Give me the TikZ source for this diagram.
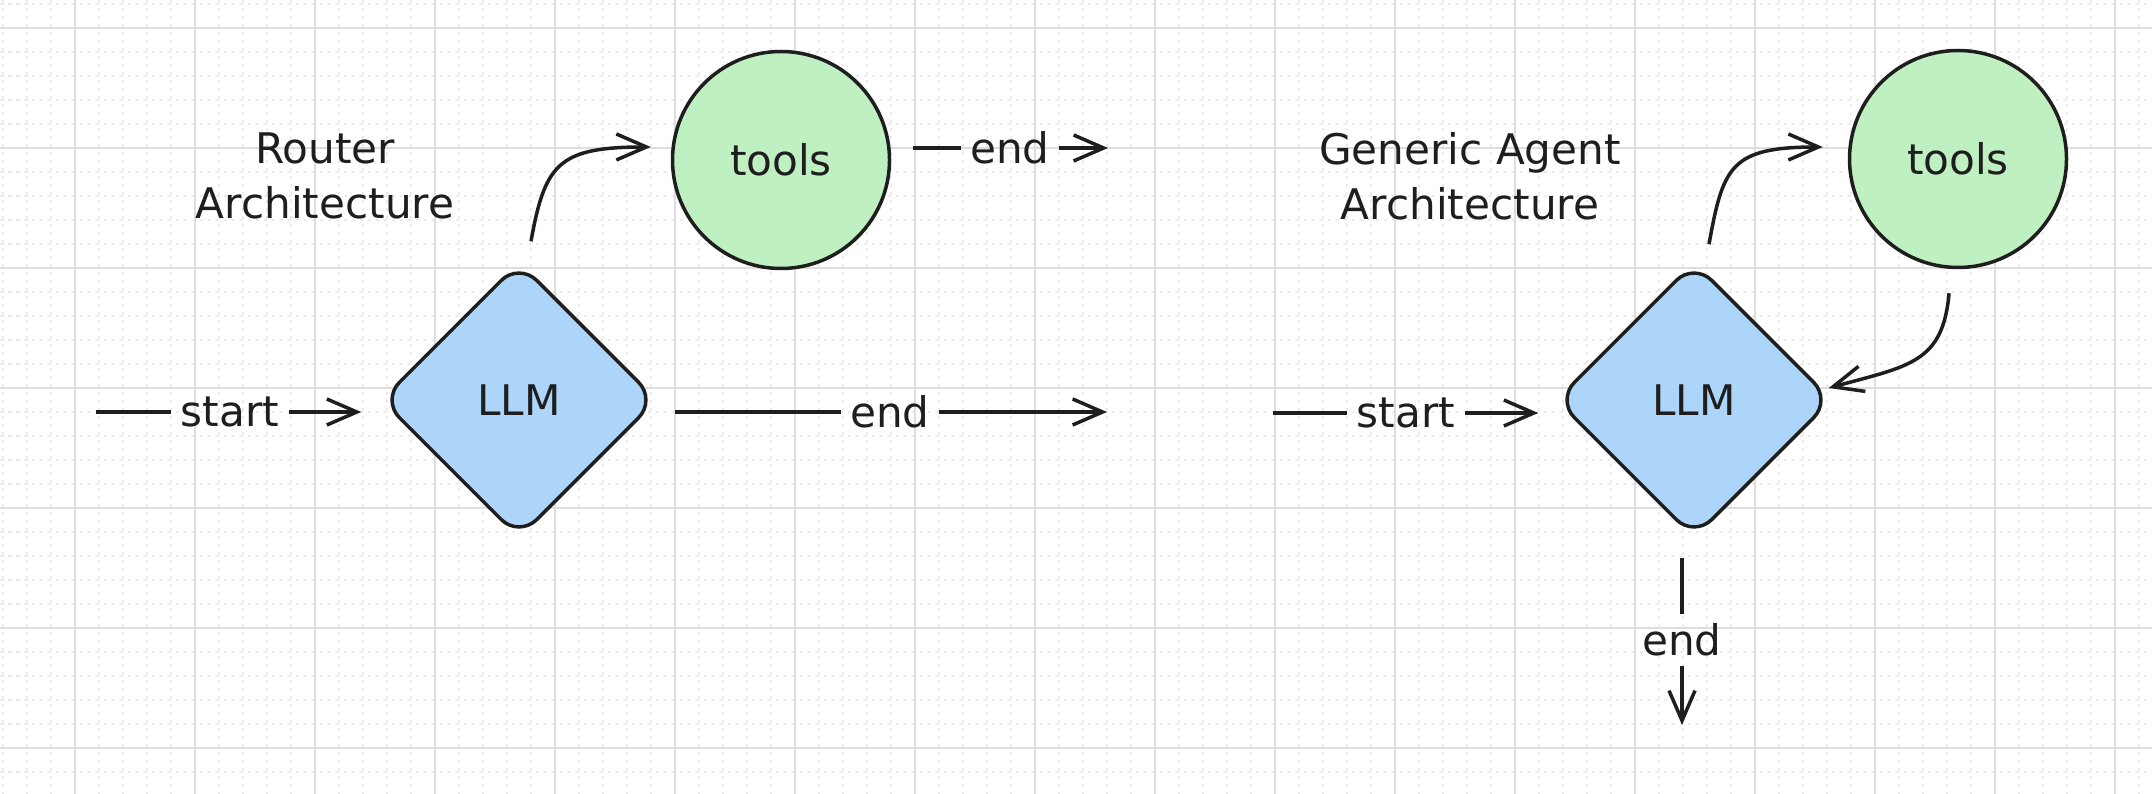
\documentclass[tikz,border=0pt]{standalone}
\usepackage{fontspec}
\setmainfont{DejaVu Sans}
\usetikzlibrary{shapes.geometric,arrows.meta}
\definecolor{ink}{HTML}{1E1E1E}
\definecolor{toolgreen}{HTML}{BFF0C1}
\definecolor{llmblue}{HTML}{ADD5FA}
\definecolor{majorgrid}{HTML}{DDDDDD}
\definecolor{minorgrid}{HTML}{EBEBEB}
\begin{document}
\begin{tikzpicture}[x=0.1mm,y=-0.1mm,
    line width=0.35mm,draw=ink,text=ink,font=\fontsize{12}{15.6}\selectfont,
    >={Straight Barb[length=3mm,width=2.6mm]},
    minor/.style={draw=minorgrid,line width=0.15mm,dash pattern=on 0.35mm off 0.45mm},
    major/.style={draw=majorgrid,line width=0.2mm},
    llm/.style={diamond,draw,fill=llmblue,minimum width=27.6mm,minimum height=27.6mm,inner sep=0pt,rounded corners=2.5mm},
    tool/.style={circle,draw,fill=toolgreen,minimum size=21.7mm,inner sep=0pt},
    lbl/.style={inner sep=0.8mm},
    ttl/.style={align=center}]
  \useasboundingbox[fill=white] (0,0) rectangle (2152,794);
  \foreach \k in {0,...,89} \draw[minor] ({3+24*\k},0) -- ({3+24*\k},794);
  \foreach \k in {0,...,32} \draw[minor] (0,{4+24*\k}) -- (2152,{4+24*\k});
  \foreach \k in {0,...,17} \draw[major] ({75+120*\k},0) -- ({75+120*\k},794);
  \foreach \k in {0,...,6} \draw[major] (0,{28+120*\k}) -- (2152,{28+120*\k});

  \node[ttl] (rtitle) at (325,176) {Router\\Architecture};
  \node[tool] (toolsA) at (781,160) {tools};
  \node[llm] (llmA) at (519,400) {LLM};
  \node[lbl] (startA) at (230,412) {start};
  \node[lbl] (endA) at (890,412) {end};
  \node[lbl] (endT) at (1010,148) {end};
  \coordinate (inA) at (96,412);
  \coordinate (outA) at (1107,412);
  \coordinate (outT) at (1108,148);
  \draw (inA) -- (startA);
  \draw[->,shorten >=1.8mm] (startA) -- (startA -| llmA.west);
  \draw[shorten <=1.6mm] (endA -| llmA.east) -- (endA);
  \draw[->] (endA) -- (outA);
  \draw[shorten <=2.2mm] (endT -| toolsA.east) -- (endT);
  \draw[->] (endT) -- (outT);
  \draw[->] ([xshift=1.2mm,yshift=1.9mm]llmA.north) .. controls +(14,-78) and +(-92,0) .. ([xshift=-2mm,yshift=1.3mm]toolsA.west);

  \node[ttl] (gtitle) at (1470,176) {Generic Agent\\Architecture};
  \node[tool] (toolsB) at (1958,159) {tools};
  \node[llm] (llmB) at (1694,400) {LLM};
  \node[lbl] (startB) at (1406,413) {start};
  \node[lbl] (endB) at (1682,640) {end};
  \coordinate (inB) at (1273,413);
  \coordinate (outB) at (1682,725);
  \draw (inB) -- (startB);
  \draw[->,shorten >=1.6mm] (startB) -- (startB -| llmB.west);
  \draw[->] ([xshift=1.5mm,yshift=1.6mm]llmB.north) .. controls +(14,-78) and +(-92,0) .. ([xshift=-2.5mm,yshift=1.2mm]toolsB.west);
  \draw[->] ([xshift=-0.9mm,yshift=-2.4mm]toolsB.south) .. controls +(-6,70) and +(80,-22) .. ([xshift=-0.5mm,yshift=1.2mm]llmB.east);
  \draw[shorten <=1.8mm] (llmB.south -| endB) -- (endB);
  \draw[->] (endB) -- (outB);
\end{tikzpicture}
\end{document}
